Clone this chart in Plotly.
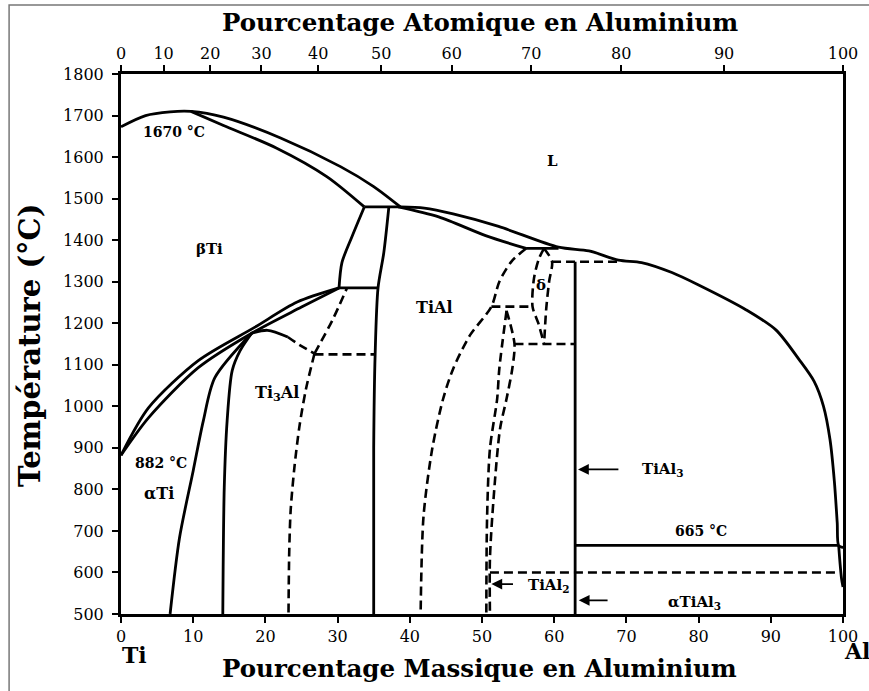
import plotly.graph_objects as go

# ---------------- data (wt% Al, temperature °C) ----------------
at_tick_labels = [0, 10, 20, 30, 40, 50, 60, 70, 80, 90, 100]
wt_tick_vals = [0, 10, 20, 30, 40, 50, 60, 70, 80, 90, 100]
M_AL, M_TI = 26.98, 47.87

# liquidus from Ti side to the 1480 peritectic
liq_beta_x = [0, 3.4, 6.8, 9.7, 14.2, 22.1, 30.4, 35.0, 38.7]
liq_beta_T = [1673, 1700, 1709, 1710, 1696, 1646, 1577, 1529, 1480]
# beta solidus
sol_beta_x = [9.7, 14.2, 21.5, 28.5, 33.7]
sol_beta_T = [1710, 1676, 1622, 1553, 1480]
peri1480_x = [33.7, 38.7]
peri1480_T = [1480, 1480]
# liquidus from 1480 to Al side
liq_al_x = [38.7, 42.0, 46.0, 52.3, 60.6, 64.8, 68.9, 72.1, 76.3, 80.0, 86.6, 90.7, 93.9, 96.0, 97.3, 98.2, 98.8, 99.2, 99.4, 100]
liq_al_T = [1480, 1477, 1463, 1433, 1383, 1374, 1352, 1346, 1322, 1292, 1232, 1184, 1113, 1060, 1000, 920, 820, 720, 665, 660]
al_solvus_x = [99.4, 99.6, 99.8, 100]
al_solvus_T = [665, 620, 585, 565]
# TiAl solidus
sol_tial_x = [38.4, 44.0, 50.5, 56.1]
sol_tial_T = [1480, 1456, 1411, 1380]
peri1380_x = [56.1, 60.6]
peri1380_T = [1380, 1380]
# TiAl left boundary
tial_left_x = [37.1, 36.4, 35.6, 35.2, 35.0, 35.0]
tial_left_T = [1480, 1370, 1285, 1125, 900, 500]
# alpha field left boundary (high T)
alpha_hi_x = [33.7, 32.0, 30.6, 30.2]
alpha_hi_T = [1480, 1409, 1346, 1285]
peri1285_x = [30.2, 35.5]
peri1285_T = [1285, 1285]
# beta transus and alpha transus from 882 °C
beta_transus_x = [0, 3.8, 10.7, 18.5, 24.4, 30.2]
beta_transus_T = [882, 996, 1110, 1190, 1251, 1285]
alpha_transus_x = [0, 3.8, 10.7, 18.1, 25.0, 30.2]
alpha_transus_T = [882, 972, 1093, 1176, 1239, 1285]
# alpha / alpha + Ti3Al
alpha_solvus_x = [18.1, 13.0, 11.4, 10.0, 8.1, 6.8]
alpha_solvus_T = [1176, 1069, 965, 845, 683, 500]
ti3al_left_x = [18.1, 16.5, 15.4, 14.7, 14.3, 14.1]
ti3al_left_T = [1176, 1134, 1086, 965, 804, 500]
ti3al_dome_x = [18.1, 20.3, 23.1]
ti3al_dome_T = [1176, 1183, 1167]
ti3al_dome_d_x = [23.1, 24.7, 26.8]
ti3al_dome_d_T = [1167, 1148, 1127]
ti3al_up_x = [26.8, 29.3, 31.3]
ti3al_up_T = [1127, 1208, 1285]
ti3al_right_x = [26.8, 25.6, 24.7, 24.0, 23.5, 23.3, 23.2]
ti3al_right_T = [1127, 1040, 950, 850, 750, 650, 500]
eut1125_x = [26.8, 35.1]
eut1125_T = [1125, 1125]
# TiAl right boundary
tial_right_x = [56.1, 54.1, 52.4, 51.3, 48.3, 46.0, 44.6, 43.1, 41.9, 41.5]
tial_right_T = [1380, 1349, 1300, 1240, 1170, 1090, 1017, 897, 735, 500]
h1240_x = [51.3, 57.0]
h1240_T = [1240, 1240]
# delta lens
delta_left_x = [58.6, 57.9, 57.2, 57.0, 57.8, 58.6]
delta_left_T = [1380, 1356, 1308, 1240, 1200, 1150]
delta_right_x = [58.6, 59.7, 59.3, 58.9, 58.6]
delta_right_T = [1380, 1348, 1301, 1236, 1150]
h1348_x = [59.7, 68.9]
h1348_T = [1348, 1348]
tial3_x = [62.9, 62.9]
tial3_T = [1348, 500]
h1150_x = [54.5, 62.9]
h1150_T = [1150, 1150]
# TiAl2
tial2_left_x = [53.4, 52.4, 52.1, 51.1, 50.7, 50.6]
tial2_left_T = [1230, 1091, 1018, 898, 729, 500]
tial2_right_x = [53.4, 54.5, 54.2, 53.4, 52.5, 51.6, 51.1, 51.1]
tial2_right_T = [1230, 1150, 1091, 1018, 946, 777, 633, 500]
h665_x = [62.9, 99.4]
h665_T = [665, 665]
h600_x = [51.1, 99.5]
h600_T = [600, 600]

solid_lines = [
    (liq_beta_x, liq_beta_T), (sol_beta_x, sol_beta_T), (peri1480_x, peri1480_T),
    (liq_al_x, liq_al_T), (al_solvus_x, al_solvus_T), (sol_tial_x, sol_tial_T),
    (peri1380_x, peri1380_T), (tial_left_x, tial_left_T), (alpha_hi_x, alpha_hi_T),
    (peri1285_x, peri1285_T), (beta_transus_x, beta_transus_T),
    (alpha_transus_x, alpha_transus_T), (alpha_solvus_x, alpha_solvus_T),
    (ti3al_left_x, ti3al_left_T), (ti3al_dome_x, ti3al_dome_T),
    (tial3_x, tial3_T), (h665_x, h665_T),
]
dashed_lines = [
    (ti3al_dome_d_x, ti3al_dome_d_T), (ti3al_up_x, ti3al_up_T),
    (ti3al_right_x, ti3al_right_T), (eut1125_x, eut1125_T),
    (tial_right_x, tial_right_T), (h1240_x, h1240_T),
    (delta_left_x, delta_left_T), (delta_right_x, delta_right_T),
    (h1348_x, h1348_T), (h1150_x, h1150_T),
    (tial2_left_x, tial2_left_T), (tial2_right_x, tial2_right_T),
    (h600_x, h600_T),
]

FONT = "DejaVu Serif"

fig = go.Figure()
for xs, ts in solid_lines:
    fig.add_trace(go.Scatter(x=xs, y=ts, mode="lines",
                             line=dict(color="black", width=2.8, shape="spline", smoothing=0.8),
                             showlegend=False, hoverinfo="skip"))
for xs, ts in dashed_lines:
    fig.add_trace(go.Scatter(x=xs, y=ts, mode="lines",
                             line=dict(color="black", width=2.6, dash="9px,5px", shape="spline", smoothing=0.8),
                             showlegend=False, hoverinfo="skip"))
# invisible trace to anchor the top axis
fig.add_trace(go.Scatter(x=[0, 100], y=[500, 500], xaxis="x2", mode="lines",
                         line=dict(color="rgba(0,0,0,0)"), showlegend=False, hoverinfo="skip"))

top_vals = [a * M_AL / (a * M_AL + (100 - a) * M_TI) * 100 for a in at_tick_labels]

axis_common = dict(showline=True, linecolor="black", linewidth=3, ticks="outside",
                   ticklen=6, tickwidth=2, tickcolor="black", showgrid=False, zeroline=False,
                   tickfont=dict(family=FONT, size=16, color="black"))
fig.update_layout(
    width=869, height=691,
    margin=dict(l=121, r=26, t=74, b=77),
    plot_bgcolor="white", paper_bgcolor="white",
    xaxis=dict(range=[0, 100], tickvals=wt_tick_vals, ticktext=[str(v) for v in wt_tick_vals], **axis_common),
    xaxis2=dict(range=[0, 100], overlaying="x", side="top", tickvals=top_vals,
                ticktext=[str(v) for v in at_tick_labels], **axis_common),
    yaxis=dict(range=[500, 1800], dtick=100, mirror=True, ticklabelstandoff=5, **axis_common),
)

def label(x, y, text, size=14, xref="x", yref="y", angle=0):
    fig.add_annotation(x=x, y=y, xref=xref, yref=yref, text="<b>" + text + "</b>", showarrow=False,
                       xanchor="center", yanchor="middle", textangle=angle,
                       font=dict(family=FONT, size=size, color="black"))

label(0.497, 1.096, "Pourcentage Atomique en Aluminium", 24.5, "paper", "paper")
label(0.497, -0.100, "Pourcentage Massique en Aluminium", 24.5, "paper", "paper")
label(-0.126, 0.498, "Température (°C)", 29, "paper", "paper", angle=-90)
label(0.019, -0.075, "Ti", 22, "paper", "paper")
label(1.019, -0.068, "Al", 22, "paper", "paper")

label(7.4, 1660, "1670 °C")
label(12.3, 1378, "βTi", 15)
label(59.7, 1590, "L", 15)
label(43.4, 1239, "TiAl", 16)
label(58.2, 1291, "δ", 15)
label(21.6, 1031, "Ti<sub>3</sub>Al", 16)
label(5.5, 863, "882 °C")
label(5.2, 790, "αTi", 16)
label(75.0, 848, "TiAl<sub>3</sub>", 15)
label(80.3, 701, "665 °C")
label(59.3, 568, "TiAl<sub>2</sub>", 15)
label(79.4, 528, "αTiAl<sub>3</sub>", 15)

for hx, tx, yy in [(63.3, 69.1, 848), (51.3, 54.5, 572), (63.4, 67.6, 533)]:
    fig.add_annotation(x=hx, y=yy, ax=tx, ay=yy, xref="x", yref="y", axref="x", ayref="y",
                       text="", showarrow=True, arrowhead=2, arrowsize=1.2, arrowwidth=1.8, arrowcolor="black")

# outer thin frame of the picture
fig.add_shape(type="rect", xref="paper", yref="paper", x0=-0.155, x1=1.06, y0=-0.2, y1=1.128,
              line=dict(color="#777", width=1.5), layer="below")

fig.write_html("out.html", config={"displayModeBar": False},
               post_script="document.body.style.margin='0';document.body.style.overflow='hidden';")
